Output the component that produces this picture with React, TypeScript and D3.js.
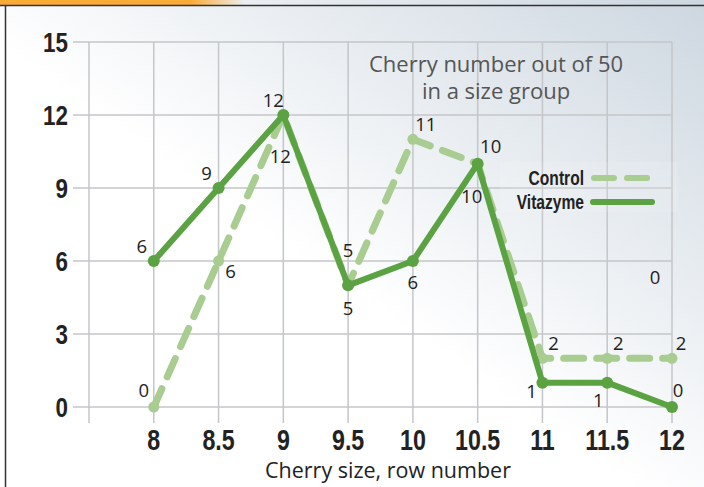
import React from "react";
import * as d3 from "d3";

const sizes = [8, 8.5, 9, 9.5, 10, 10.5, 11, 11.5, 12];
const vitazyme = [6, 9, 12, 5, 6, 10, 1, 1, 0];
const control = [0, 6, 12, 5, 11, 10, 2, 2, 2];
const yTicks = [0, 3, 6, 9, 12, 15];
const xGrid = [7.5, 8, 8.5, 9, 9.5, 10, 10.5, 11, 11.5, 12];

// label offsets (dx, dy) relative to the point
const vitaLabelPos: [number, number][] = [
  [-12, -8], [-12, -8], [-10, -8], [0, 30], [0, 28], [13, -11], [-11, 15], [-9, 24], [6, -10],
];
const ctrlLabelPos: [number, number][] = [
  [-10, -10], [12, 17], [-3, 48], [0, -28], [13, -8], [-6, 39], [11, -8], [11, -8], [9, -8],
];

const W = 704;
const H = 487;
const green = "#5ba243";
const lightGreen = "#a9cc90";
const bold = "'Liberation Sans', Arial, sans-serif";
const regular = "'Open Sans', 'Noto Sans', sans-serif";

const App = () => {
  const x = d3.scaleLinear().domain([7.5, 12]).range([89, 672]);
  const y = d3.scaleLinear().domain([0, 15]).range([407, 42]);

  const line = d3
    .line<number>()
    .x((_, i) => x(sizes[i]))
    .y((d) => y(d));

  return (
    <div style={{ position: "absolute", left: 0, top: 0 }}>
      <svg width={W} height={H}>
        <defs>
          <linearGradient id="bg" x1="0" y1="1" x2="1" y2="0">
            <stop offset="0%" stopColor="#ffffff" />
            <stop offset="45%" stopColor="#ffffff" />
            <stop offset="100%" stopColor="#cdd7e0" />
          </linearGradient>
          <linearGradient id="bar" x1="0" y1="0" x2="1" y2="0">
            <stop offset="0%" stopColor="#f9ab38" />
            <stop offset="78%" stopColor="#f9ab38" />
            <stop offset="100%" stopColor="#f9ab38" stopOpacity={0} />
          </linearGradient>
        </defs>
        <rect width={W} height={H} fill="url(#bg)" />
        <rect x={0} y={0} width={245} height={5} fill="url(#bar)" />
        <line x1={0} x2={W} y1={5.5} y2={5.5} stroke="#333" strokeWidth={1.5} />
        <line x1={5.5} x2={5.5} y1={5} y2={H} stroke="#333" strokeWidth={1.5} />

        {yTicks.map((t) => (
          <g key={"y" + t}>
            <line x1={73} x2={672} y1={y(t)} y2={y(t)} stroke="#c4c6c9" strokeWidth={1.5} />
            <text
              transform={`translate(68,${y(t) + 10}) scale(0.8,1)`}
              textAnchor="end"
              fontFamily={bold}
              fontWeight="bold"
              fontSize={28}
              fill="#222"
            >
              {t}
            </text>
          </g>
        ))}
        {xGrid.map((t) => (
          <line key={"x" + t} x1={x(t)} x2={x(t)} y1={42} y2={423} stroke="#c4c6c9" strokeWidth={1.5} />
        ))}
        {sizes.map((s) => (
          <text
            key={"xl" + s}
            transform={`translate(${x(s)},450) scale(0.8,1)`}
            textAnchor="middle"
            fontFamily={bold}
            fontWeight="bold"
            fontSize={29}
            fill="#222"
          >
            {s}
          </text>
        ))}
        <text x={388} y={478} textAnchor="middle" fontFamily={regular} fontSize={21.5} fill="#222">
          Cherry size, row number
        </text>

        <text x={496} y={72} textAnchor="middle" fontFamily={regular} fontSize={22} fill="#555">
          Cherry number out of 50
        </text>
        <text x={496} y={99} textAnchor="middle" fontFamily={regular} fontSize={22} fill="#555">
          in a size group
        </text>

        <path
          d={line(control) || ""}
          fill="none"
          stroke={lightGreen}
          strokeWidth={7}
          strokeDasharray="20 13"
          strokeLinecap="round"
          strokeLinejoin="round"
        />
        {control.map((v, i) => (
          <circle key={"cc" + i} cx={x(sizes[i])} cy={y(v)} r={5.5} fill={lightGreen} />
        ))}
        <path
          d={line(vitazyme) || ""}
          fill="none"
          stroke={green}
          strokeWidth={6}
          strokeLinejoin="round"
        />
        {vitazyme.map((v, i) => (
          <circle key={"vc" + i} cx={x(sizes[i])} cy={y(v)} r={6} fill={green} />
        ))}

        <g fontFamily={regular} fontSize={18.5} fill="#222" textAnchor="middle">
          {vitazyme.map((v, i) => (
            <text key={"vl" + i} x={x(sizes[i]) + vitaLabelPos[i][0]} y={y(v) + vitaLabelPos[i][1]}>
              {v}
            </text>
          ))}
          {control.map((v, i) => (
            <text key={"cl" + i} x={x(sizes[i]) + ctrlLabelPos[i][0]} y={y(v) + ctrlLabelPos[i][1]}>
              {v}
            </text>
          ))}
          <text x={655} y={284}>0</text>
        </g>

        <g>
          <rect x={500} y={162} width={178} height={50} fill="#ffffff" opacity={0.12} />
          <text
            transform="translate(584,185) scale(0.78,1)"
            textAnchor="end"
            fontFamily={bold}
            fontWeight="bold"
            fontSize={20}
            fill="#222"
          >
            Control
          </text>
          <text
            transform="translate(584,209) scale(0.78,1)"
            textAnchor="end"
            fontFamily={bold}
            fontWeight="bold"
            fontSize={20}
            fill="#222"
          >
            Vitazyme
          </text>
          <line x1={594} x2={651} y1={178} y2={178} stroke={lightGreen} strokeWidth={6} strokeDasharray="20 13" strokeLinecap="round" />
          <line x1={593} x2={652} y1={202} y2={202} stroke={green} strokeWidth={6} strokeLinecap="round" />
        </g>
      </svg>
    </div>
  );
};

export default App;
